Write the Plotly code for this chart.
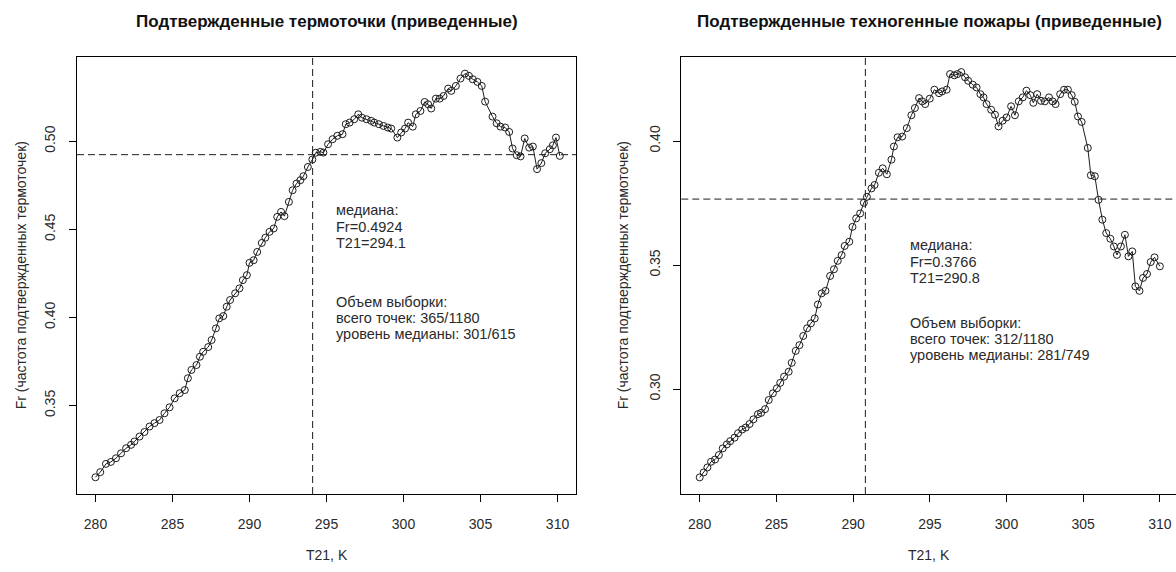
import plotly.graph_objects as go

# ---------------- data ----------------
t_left = [280.0, 280.31, 280.68, 281.0, 281.33, 281.66, 281.99, 282.31, 282.53, 282.86,
          283.18, 283.51, 283.83, 284.16, 284.48, 284.81, 285.14, 285.47, 285.8, 286.0,
          286.23, 286.56, 286.78, 286.99, 287.32, 287.54, 287.82, 288.04, 288.3, 288.52,
          288.74, 289.07, 289.35, 289.57, 289.83, 290.0, 290.27, 290.5, 290.8, 291.03,
          291.3, 291.57, 291.8, 292.05, 292.27, 292.56, 292.8, 293.05, 293.3, 293.5,
          293.79, 294.08, 294.3, 294.6, 294.8, 295.1, 295.4, 295.7, 296.04, 296.25,
          296.5, 296.8, 297.06, 297.3, 297.6, 297.9, 298.1, 298.4, 298.7, 298.98,
          299.2, 299.6, 299.85, 300.1, 300.3, 300.6, 300.8, 301.1, 301.37, 301.6,
          301.8, 302.1, 302.35, 302.6, 302.9, 303.1, 303.4, 303.7, 303.99, 304.25,
          304.5, 304.8, 305.08, 305.3, 305.78, 306.05, 306.3, 306.6, 306.86, 307.08,
          307.35, 307.6, 307.87, 308.16, 308.4, 308.67, 308.95, 309.2, 309.5, 309.7,
          309.9, 310.15]
fr_left = [0.3093, 0.3122, 0.3169, 0.3180, 0.3201, 0.3229, 0.3258, 0.3277, 0.3296, 0.3324,
           0.3350, 0.3381, 0.3400, 0.3418, 0.3456, 0.3490, 0.3541, 0.3570, 0.3588, 0.3655,
           0.3702, 0.3730, 0.3777, 0.3805, 0.3832, 0.3872, 0.3938, 0.3995, 0.4008, 0.4061,
           0.4099, 0.4137, 0.4165, 0.4212, 0.4240, 0.4310, 0.4325, 0.4372, 0.4423, 0.4453,
           0.4486, 0.4505, 0.4571, 0.4599, 0.4575, 0.4656, 0.4722, 0.4760, 0.4779, 0.4802,
           0.4854, 0.4896, 0.4935, 0.4940, 0.4936, 0.4983, 0.5012, 0.5031, 0.5040, 0.5097,
           0.5106, 0.5125, 0.5153, 0.5134, 0.5125, 0.5116, 0.5106, 0.5097, 0.5087, 0.5078,
           0.5072, 0.5021, 0.5050, 0.5072, 0.5106, 0.5083, 0.5153, 0.5172, 0.5223, 0.5210,
           0.5186, 0.5242, 0.5242, 0.5257, 0.5299, 0.5286, 0.5314, 0.5356, 0.5384, 0.5371,
           0.5352, 0.5337, 0.5314, 0.5225, 0.5140, 0.5102, 0.5083, 0.5078, 0.5053, 0.4959,
           0.4921, 0.4914, 0.5016, 0.4964, 0.4970, 0.4842, 0.4876, 0.4932, 0.4955, 0.4977,
           0.5021, 0.4917]

t_right = [280.0, 280.26, 280.5, 280.74, 281.0, 281.25, 281.5, 281.77, 281.99, 282.27,
           282.5, 282.77, 283.0, 283.25, 283.5, 283.8, 284.0, 284.26, 284.5, 284.77,
           285.03, 285.25, 285.5, 285.8, 286.0, 286.26, 286.5, 286.75, 287.0, 287.25,
           287.5, 287.7, 287.95, 288.2, 288.5, 288.75, 289.0, 289.25, 289.45, 289.75,
           289.96, 290.2, 290.46, 290.7, 290.9, 291.2, 291.4, 291.68, 291.93, 292.2,
           292.5, 292.66, 292.9, 293.2, 293.5, 293.8, 294.03, 294.3, 294.5, 294.7,
           295.0, 295.3, 295.6, 295.8, 296.1, 296.32, 296.6, 296.8, 297.05, 297.3,
           297.5, 297.8, 298.05, 298.3, 298.5, 298.7, 299.0, 299.25, 299.48, 299.75,
           300.0, 300.3, 300.55, 300.8, 301.06, 301.3, 301.55, 301.75, 302.0, 302.25,
           302.5, 302.77, 303.0, 303.2, 303.5, 303.75, 304.0, 304.25, 304.45, 304.66,
           304.9, 305.3, 305.5, 305.76, 306.0, 306.25, 306.5, 306.77, 307.0, 307.2,
           307.46, 307.72, 307.95, 308.2, 308.4, 308.67, 308.9, 309.16, 309.4, 309.65,
           310.0]
fr_right = [0.2644, 0.2664, 0.2684, 0.2707, 0.2716, 0.2734, 0.2761, 0.2777, 0.2790, 0.2804,
            0.2822, 0.2837, 0.2845, 0.2859, 0.2878, 0.2899, 0.2904, 0.2919, 0.2956, 0.2983,
            0.3003, 0.3025, 0.3050, 0.3070, 0.3106, 0.3154, 0.3177, 0.3214, 0.3245, 0.3265,
            0.3285, 0.3341, 0.3386, 0.3396, 0.3456, 0.3483, 0.3517, 0.3540, 0.3577, 0.3594,
            0.3654, 0.3688, 0.3708, 0.3751, 0.3775, 0.3809, 0.3823, 0.3872, 0.3890, 0.3866,
            0.3925, 0.3978, 0.4015, 0.4018, 0.4052, 0.4104, 0.4133, 0.4173, 0.4160, 0.4149,
            0.4171, 0.4207, 0.4193, 0.4200, 0.4207, 0.4270, 0.4265, 0.4270, 0.4278, 0.4257,
            0.4243, 0.4227, 0.4216, 0.4189, 0.4176, 0.4149, 0.4126, 0.4106, 0.4059, 0.4082,
            0.4095, 0.4140, 0.4104, 0.4160, 0.4176, 0.4203, 0.4185, 0.4154, 0.4189, 0.4162,
            0.4160, 0.4176, 0.4160, 0.4149, 0.4189, 0.4207, 0.4207, 0.4185, 0.4158, 0.4099,
            0.4077, 0.3972, 0.3862, 0.3858, 0.3763, 0.3683, 0.3629, 0.3606, 0.3575, 0.3541,
            0.3575, 0.3622, 0.3535, 0.3555, 0.3414, 0.3396, 0.3448, 0.3464, 0.3512, 0.3531,
            0.3495]

titles = ["Подтвержденные термоточки (приведенные)",
          "Подтвержденные техногенные пожары (приведенные)"]
y_title = "Fr (частота подтвержденных термоточек)"
x_title = "T21, K"
x_ticks = [280, 285, 290, 295, 300, 305, 310]
y_ticks_left = [0.35, 0.40, 0.45, 0.50]
y_ticks_right = [0.30, 0.35, 0.40]

median_fr = [0.4924, 0.3766]
median_t = [294.1, 290.8]
median_lines = [["медиана:", "Fr=0.4924", "T21=294.1"],
                ["медиана:", "Fr=0.3766", "T21=290.8"]]
sample_lines = [["Объем выборки:", "всего точек: 365/1180", "уровень медианы: 301/615"],
                ["Объем выборки:", "всего точек: 312/1180", "уровень медианы: 281/749"]]

# ---------------- figure ----------------
W, H = 1176, 572
FONT = "Liberation Sans, Arial, sans-serif"
INK = "#1c1c1c"
TXT = "#2a2a2a"

fig = go.Figure()
fig.add_trace(go.Scatter(x=t_left, y=fr_left, mode="lines+markers", xaxis="x", yaxis="y",
                         line=dict(color=INK, width=1),
                         marker=dict(symbol="circle-open", size=7, color=INK,
                                     line=dict(width=1, color=INK)),
                         showlegend=False, hoverinfo="skip"))
fig.add_trace(go.Scatter(x=t_right, y=fr_right, mode="lines+markers", xaxis="x2", yaxis="y2",
                         line=dict(color=INK, width=1),
                         marker=dict(symbol="circle-open", size=7, color=INK,
                                     line=dict(width=1, color=INK)),
                         showlegend=False, hoverinfo="skip"))

px = lambda v: v / W
py = lambda v: 1 - v / H

box_top, box_bot = 56.7, 494.0
dom_left = [px(77), px(576)]
dom_right = [px(681.3), 1.0]
ydom = [py(box_bot), py(box_top)]

axis_common = dict(showgrid=False, zeroline=False, showline=True, linecolor="#000",
                   linewidth=1, ticks="outside", ticklen=7, tickwidth=1, tickcolor="#000",
                   tickfont=dict(family=FONT, size=14, color=TXT))

fig.update_layout(
    width=W, height=H, margin=dict(l=0, r=0, t=0, b=0),
    paper_bgcolor="white", plot_bgcolor="white",
    xaxis=dict(domain=dom_left, range=[278.8, 311.2], tickvals=x_ticks, mirror=True,
               anchor="y", ticklabelstandoff=10, **axis_common),
    yaxis=dict(domain=ydom, range=[0.2998, 0.5480], tickvals=y_ticks_left,
               ticktext=[f"{v:.2f}" for v in y_ticks_left], tickangle=-90, mirror=True,
               anchor="x", ticklabelstandoff=8, **axis_common),
    xaxis2=dict(domain=dom_right, range=[278.8, 311.05], tickvals=x_ticks, mirror=True,
                anchor="y2", ticklabelstandoff=10, **axis_common),
    yaxis2=dict(domain=ydom, range=[0.2577, 0.4340], tickvals=y_ticks_right,
                ticktext=[f"{v:.2f}" for v in y_ticks_right], tickangle=-90, mirror=False,
                anchor="x2", ticklabelstandoff=8, **axis_common),
)

dash = "7px,4px"
for i, (xr, yr) in enumerate([("x", "y"), ("x2", "y2")]):
    fig.add_shape(type="line", xref=xr, yref=yr + " domain", x0=median_t[i], x1=median_t[i],
                  y0=0, y1=1, line=dict(color=INK, width=1, dash=dash))
    fig.add_shape(type="line", xref=xr + " domain", yref=yr, x0=0, x1=1,
                  y0=median_fr[i], y1=median_fr[i], line=dict(color=INK, width=1, dash=dash))

centers = [(77 + 576) / 2, (681.3 + 1177) / 2]
for i in range(2):
    fig.add_annotation(text=f"<b>{titles[i]}</b>", xref="paper", yref="paper",
                       x=px(centers[i]), y=py(22), xanchor="center", yanchor="middle",
                       showarrow=False, font=dict(family=FONT, size=17, color="#111"))
    fig.add_annotation(text=x_title, xref="paper", yref="paper",
                       x=px(centers[i]), y=py(555), xanchor="center", yanchor="middle",
                       showarrow=False, font=dict(family=FONT, size=14, color=TXT))

for xc in [21, 623]:
    fig.add_annotation(text=y_title, xref="paper", yref="paper", textangle=-90,
                       x=px(xc), y=py((box_top + box_bot) / 2), xanchor="center",
                       yanchor="middle", showarrow=False,
                       font=dict(family=FONT, size=14, color=TXT))

# info text blocks (pixel positions of each line)
block_x = [334, 908]
block1_y = [[210, 226.5, 243], [245, 261.7, 278.3]]
block2_y = [[302, 318, 334], [323.3, 339, 355]]
for i in range(2):
    for j, line in enumerate(median_lines[i]):
        fig.add_annotation(text=line, xref="paper", yref="paper", x=px(block_x[i]),
                           y=py(block1_y[i][j]), xanchor="left", yanchor="middle",
                           showarrow=False, font=dict(family=FONT, size=14.5, color=TXT))
    for j, line in enumerate(sample_lines[i]):
        fig.add_annotation(text=line, xref="paper", yref="paper", x=px(block_x[i]),
                           y=py(block2_y[i][j]), xanchor="left", yanchor="middle",
                           showarrow=False, font=dict(family=FONT, size=14.5, color=TXT))

fig.write_html("out.html", config={"displayModeBar": False},
               post_script="document.body.style.margin='0px';document.body.style.overflow='hidden';")
